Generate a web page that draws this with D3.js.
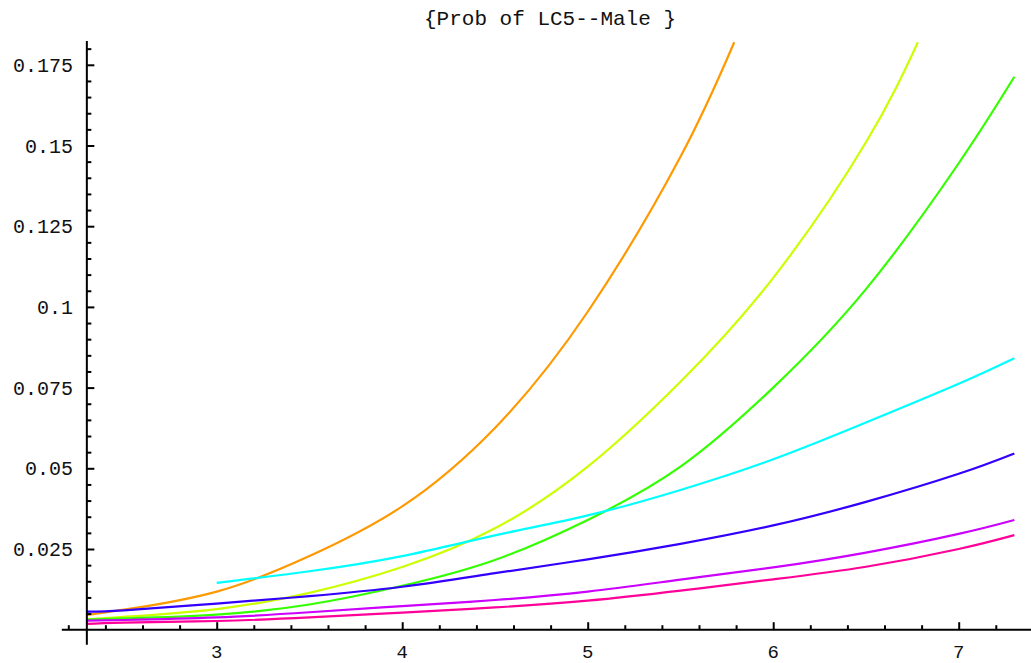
<!DOCTYPE html>
<html>
<head>
<meta charset="utf-8">
<script src="https://cdn.jsdelivr.net/npm/d3@7"></script>
<style>
  body { margin: 0; background: #fff; }
  svg { display: block; }
  text { font-family: "Liberation Mono", "Courier New", monospace; fill: #111; }
</style>
</head>
<body>
<svg id="chart" width="1031" height="663"></svg>
<script>
// values
const xGrid = [2.3, 2.5, 3, 3.5, 4, 4.5, 5, 5.5, 6, 6.5, 7, 7.3];

const orangeX = [2.3, 2.5, 3, 3.5, 4, 4.5, 5, 5.5, 5.79];
const orangeY = [0.0046, 0.0062, 0.0118, 0.0228, 0.0382, 0.0625, 0.0985, 0.1465, 0.182];

const yellowX = [2.3, 2.5, 3, 3.5, 4, 4.5, 5, 5.5, 6, 6.5, 6.78];
const yellowY = [0.0032, 0.0040, 0.0064, 0.0114, 0.0194, 0.0314, 0.0505, 0.0768, 0.109, 0.151, 0.182];

const greenY  = [0.0031, 0.0035, 0.0047, 0.0078, 0.0136, 0.0216, 0.034, 0.0505, 0.0750, 0.1055, 0.1445, 0.1713];

const cyanX = [3, 3.5, 4, 4.5, 5, 5.5, 6, 6.5, 7, 7.3];
const cyanY = [0.0145, 0.0181, 0.0228, 0.0292, 0.0354, 0.0433, 0.0528, 0.0642, 0.0762, 0.0841];

const blueY   = [0.0056, 0.0060, 0.0081, 0.0104, 0.0133, 0.0175, 0.0218, 0.0266, 0.0323, 0.0396, 0.0483, 0.0546];
const purpleY = [0.0028, 0.0030, 0.0038, 0.0054, 0.0073, 0.0092, 0.0118, 0.0155, 0.0193, 0.0239, 0.0297, 0.034];
const pinkY   = [0.0018, 0.0022, 0.0027, 0.0038, 0.0053, 0.0069, 0.0090, 0.0121, 0.0156, 0.0195, 0.0250, 0.0293];

const yMajor = [0.025, 0.05, 0.075, 0.1, 0.125, 0.15, 0.175];
const yLabels = ['0.025', '0.05', '0.075', '0.1', '0.125', '0.15', '0.175'];
const xMajor = [3, 4, 5, 6, 7];
const xLabels = ['3', '4', '5', '6', '7'];

const title = '{Prob of LC5--Male }';

const svg = d3.select('#chart');

let x = d3.scaleLinear().domain([2.3, 7.3]).range([86.85, 1014.35]);
let y = d3.scaleLinear().domain([0, 0.175]).range([629.7, 64.8]);

let series = [
  {color: '#ff9900', xs: orangeX, ys: orangeY},
  {color: '#ccff00', xs: yellowX, ys: yellowY},
  {color: '#33ff00', xs: xGrid, ys: greenY},
  {color: '#00ffff', xs: cyanX, ys: cyanY},
  {color: '#3300ff', xs: xGrid, ys: blueY},
  {color: '#cc00ff', xs: xGrid, ys: purpleY},
  {color: '#ff0099', xs: xGrid, ys: pinkY}
];

svg.append('clipPath').attr('id', 'plotClip')
  .append('rect')
  .attr('x', x(2.3)).attr('y', y(0.1823))
  .attr('width', 1031 - x(2.3)).attr('height', y(0) - y(0.1823) + 20);

let line = d3.line()
  .x(d => x(d[0]))
  .y(d => y(d[1]))
  .curve(d3.curveNatural);

svg.append('g').attr('clip-path', 'url(#plotClip)')
  .selectAll('path')
  .data(series)
  .enter().append('path')
  .attr('d', s => line(s.xs.map((v, i) => [v, s.ys[i]])))
  .attr('fill', 'none')
  .attr('stroke', s => s.color)
  .attr('stroke-width', 2.2);

// axes lines (run past the ticks, as in the picture)
svg.append('line')
  .attr('x1', x(2.165)).attr('x2', 1031)
  .attr('y1', y(0)).attr('y2', y(0))
  .attr('stroke', '#000').attr('stroke-width', 2);
svg.append('line')
  .attr('x1', x(2.3)).attr('x2', x(2.3))
  .attr('y1', y(0.1824)).attr('y2', y(-0.0047))
  .attr('stroke', '#000').attr('stroke-width', 2);

let yMinor = d3.range(1, 37).map(i => i * 0.005).filter(v => !yMajor.some(m => Math.abs(m - v) < 1e-9));
let xMinor = d3.range(11, 38).map(i => i * 0.2).filter(v => !xMajor.some(m => Math.abs(m - v) < 1e-9));

function tickAxis(axis, tx, ty) {
  let g = svg.append('g').attr('transform', 'translate(' + tx + ',' + ty + ')').call(axis);
  g.select('.domain').remove();
  g.selectAll('.tick line').attr('stroke', '#000').attr('stroke-width', 2);
  return g;
}

tickAxis(d3.axisRight(y).tickValues(yMinor).tickSize(4.5).tickFormat(''), x(2.3), 0);
tickAxis(d3.axisRight(y).tickValues(yMajor).tickSize(7.5).tickFormat(''), x(2.3), 0);
tickAxis(d3.axisTop(x).tickValues(xMinor).tickSize(4.5).tickFormat(''), 0, y(0));
tickAxis(d3.axisTop(x).tickValues(xMajor).tickSize(7.5).tickFormat(''), 0, y(0));

svg.append('g').selectAll('text')
  .data(yMajor)
  .enter().append('text')
  .attr('x', 73)
  .attr('y', d => y(d) + 7)
  .attr('text-anchor', 'end')
  .style('font-size', '20px')
  .text((d, i) => yLabels[i]);

svg.append('g').selectAll('text')
  .data(xMajor)
  .enter().append('text')
  .attr('x', d => x(d))
  .attr('y', 658)
  .attr('text-anchor', 'middle')
  .style('font-size', '19px')
  .text((d, i) => xLabels[i]);

svg.append('text')
  .attr('x', 550)
  .attr('y', 25)
  .attr('text-anchor', 'middle')
  .style('font-size', '21px')
  .text(title);
</script>
</body>
</html>
